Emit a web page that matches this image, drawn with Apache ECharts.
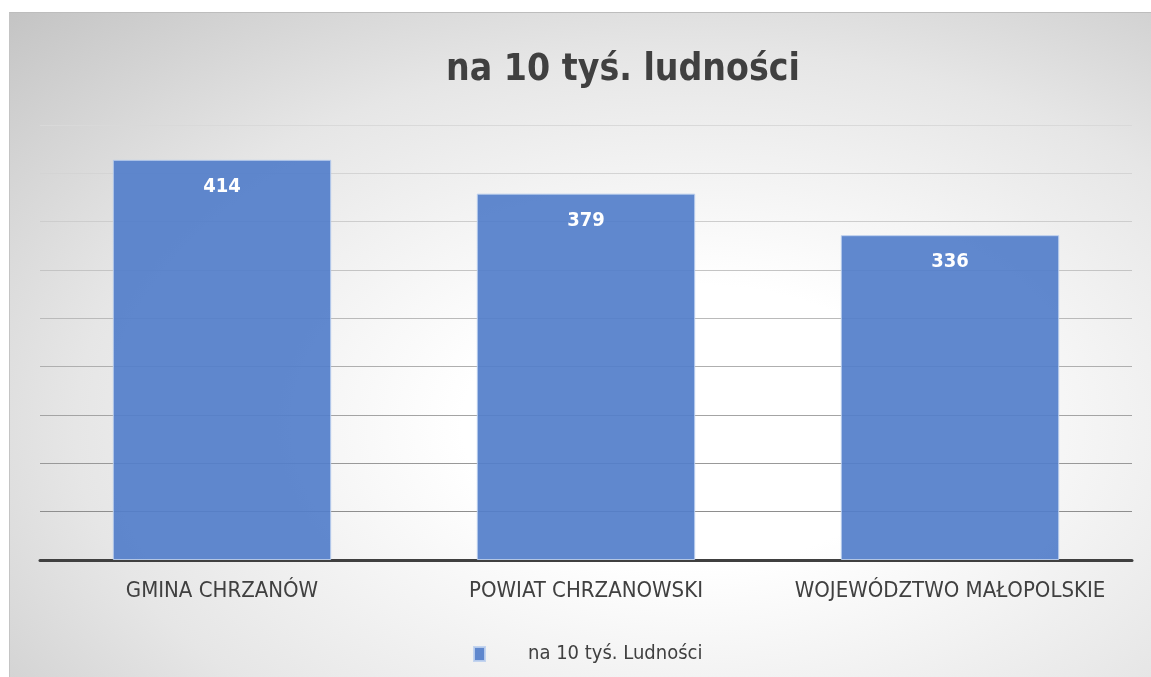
<!DOCTYPE html>
<html>
<head>
<meta charset="utf-8">
<script src="https://cdn.jsdelivr.net/npm/echarts@6/dist/echarts.min.js"></script>
<style>
  html, body { margin: 0; padding: 0; background: #fff; }
  #chart {
    position: absolute; left: 9px; top: 12px; width: 1142px; height: 665px;
    background: radial-gradient(ellipse at 60% 62%, #ffffff 0%, #ffffff 24%, #e6e6e6 64%, #c4c4c4 100%);
    border-top: 1px solid #bdbdbd; border-left: 1px solid #c4c4c4;
    box-sizing: border-box;
  }
</style>
</head>
<body>
<div id="chart"></div>
<script>
  const titleText = 'na 10 tyś. ludności';
  const seriesName = 'na 10 tyś. Ludności';
  const categories = ['GMINA CHRZANÓW', 'POWIAT CHRZANOWSKI', 'WOJEWÓDZTWO MAŁOPOLSKIE'];
  const values = [414, 379, 336];

  const font = '"Liberation Sans Narrow", "DejaVu Sans Condensed", "Roboto", sans-serif';

  const chart = echarts.init(document.getElementById('chart'));

  const option = {
    backgroundColor: 'transparent',
    title: {
      text: titleText,
      left: 608,
      textAlign: 'center',
      top: 34,
      textStyle: {
        fontFamily: font,
        fontSize: 37,
        fontWeight: 'bold',
        color: '#404040'
      }
    },
    legend: {
      data: [seriesName],
      left: 463,
      top: 625,
      icon: 'rect',
      itemWidth: 11,
      itemHeight: 14,
      padding: [6, 24, 6, 0],
      textStyle: {
        fontFamily: font,
        fontSize: 20,
        color: '#404040',
        padding: [0, 0, 0, 38]
      }
    },
    grid: {
      left: 30,
      right: 19,
      top: 112,
      bottom: 117,
      containLabel: false
    },
    xAxis: {
      type: 'category',
      data: categories,
      axisTick: { show: false },
      axisLine: { lineStyle: { color: '#404040', width: 3 } },
      axisLabel: {
        interval: 0,
        fontFamily: font,
        fontSize: 22,
        color: '#404040',
        margin: 20
      }
    },
    yAxis: {
      type: 'value',
      min: 0,
      max: 450,
      interval: 50,
      axisLabel: { show: false },
      axisLine: { show: false },
      axisTick: { show: false },
      splitLine: {
        lineStyle: {
          width: 1,
          color: ['#404040', '#8e8e8e', '#999999', '#a4a4a4', '#afafaf', '#bababa', '#c4c4c4', '#cdcdcd', '#d4d4d4', '#d9d9d9']
        }
      }
    },
    series: [
      {
        name: seriesName,
        type: 'bar',
        data: values,
        barCategoryGap: '40%',
        itemStyle: {
          color: 'rgba(82, 126, 202, 0.92)',
          borderColor: 'rgba(190, 208, 238, 0.9)',
          borderWidth: 1
        },
        label: {
          show: true,
          position: 'insideTop',
          distance: 17,
          fontFamily: font,
          fontSize: 20,
          fontWeight: 'bold',
          color: '#ffffff'
        }
      }
    ]
  };

  chart.setOption(option);
</script>
</body>
</html>
